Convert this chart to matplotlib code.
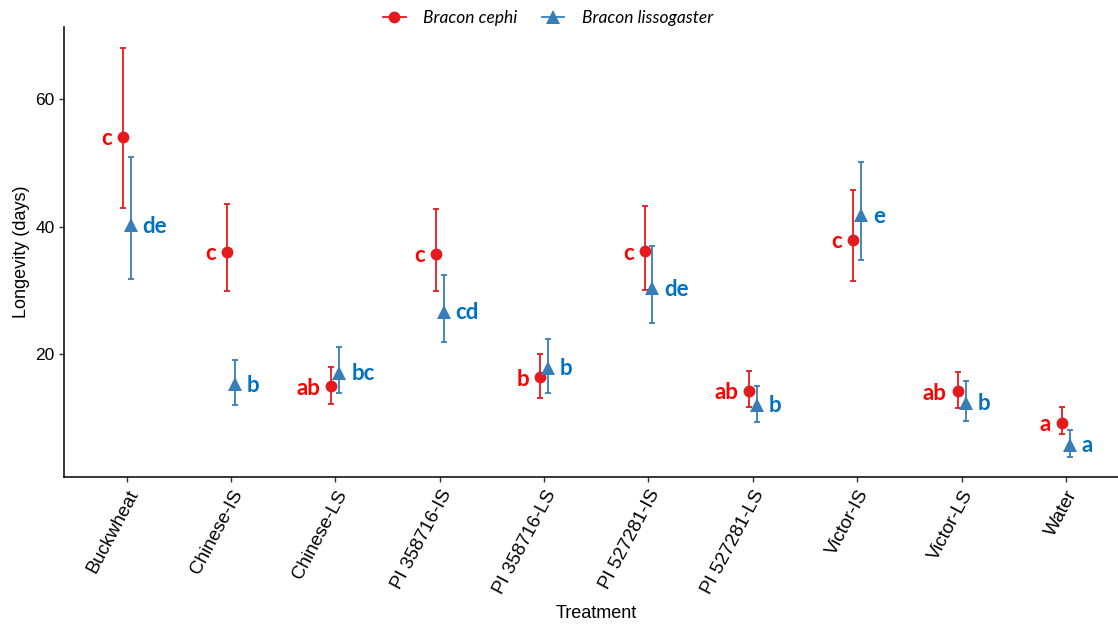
import matplotlib
matplotlib.use("Agg")
import matplotlib.pyplot as plt
from matplotlib.lines import Line2D
import numpy as np

# Treatments on the x axis
treatments = ["Buckwheat", "Chinese-IS", "Chinese-LS", "PI 358716-IS", "PI 358716-LS",
              "PI 527281-IS", "PI 527281-LS", "Victor-IS", "Victor-LS", "Water"]

# Bracon cephi: mean longevity with lower / upper interval limits (days)
cephi_mean = [54.1, 36.0, 14.9, 35.7, 16.3, 36.1, 14.2, 37.9, 14.1, 9.2]
cephi_low = [42.9, 29.8, 12.1, 29.9, 13.1, 30.1, 11.6, 31.4, 11.5, 7.4]
cephi_high = [68.1, 43.5, 17.9, 42.7, 20.0, 43.2, 17.3, 45.7, 17.1, 11.7]
cephi_letters = ["c", "c", "ab", "c", "b", "c", "ab", "c", "ab", "a"]

# Bracon lissogaster: mean longevity with lower / upper interval limits (days)
liss_mean = [40.2, 15.2, 17.0, 26.6, 17.8, 30.3, 12.0, 41.8, 12.3, 5.7]
liss_low = [31.7, 12.0, 13.8, 21.8, 13.9, 24.8, 9.3, 34.8, 9.5, 3.8]
liss_high = [51.0, 19.0, 21.0, 32.4, 22.3, 37.0, 15.0, 50.1, 15.7, 8.0]
liss_letters = ["de", "b", "bc", "cd", "b", "de", "b", "e", "b", "a"]

series_names = ["Bracon cephi", "Bracon lissogaster"]
yticks = [20, 40, 60]

RED = "#E41A1C"
BLUE = "#377EB8"
LETTER_RED = "#FF0000"
LETTER_BLUE = "#0070C0"

plt.rcParams["font.family"] = ["Liberation Sans", "DejaVu Sans"]

W, H = 1118, 625
fig = plt.figure(figsize=(W / 100, H / 100), dpi=100)
ax = fig.add_axes([64 / W, (H - 476.7) / H, (1128.6 - 64) / W, (476.7 - 27.3) / H])

x = np.arange(len(treatments))
dodge = 0.038


def draw_series(xpos, mean, low, high, color, marker, ms):
    mean = np.asarray(mean)
    yerr = np.vstack([mean - np.asarray(low), np.asarray(high) - mean])
    ax.errorbar(xpos, mean, yerr=yerr, fmt="none", ecolor=color, elinewidth=1.3,
                capsize=2.4, capthick=1.3, zorder=2)
    ax.plot(xpos, mean, linestyle="none", marker=marker, markersize=ms,
            color=color, markeredgewidth=0, zorder=3)


draw_series(x - dodge, cephi_mean, cephi_low, cephi_high, RED, "o", 8.5)
draw_series(x + dodge, liss_mean, liss_low, liss_high, BLUE, "^", 10.5)

letter_font = dict(family=["Lato", "DejaVu Sans"], fontweight="bold", fontsize=16)
for xi, yi, lab in zip(x - dodge, cephi_mean, cephi_letters):
    ax.annotate(lab, (xi, yi), xytext=(-11, -2), textcoords="offset pixels",
                ha="right", va="center", color=LETTER_RED, **letter_font)
for xi, yi, lab in zip(x + dodge, liss_mean, liss_letters):
    ax.annotate(lab, (xi, yi), xytext=(12, -1), textcoords="offset pixels",
                ha="left", va="center", color=LETTER_BLUE, **letter_font)

ax.set_xlim(-0.6, len(treatments) - 0.4)
ax.set_ylim(0.7, 71.3)
ax.set_yticks(yticks)
ax.set_xticks(x)
ax.set_xticklabels(treatments, rotation=62, ha="right", va="top",
                   rotation_mode="anchor", fontsize=13.5)

for s in ["top", "right"]:
    ax.spines[s].set_visible(False)
for s in ["left", "bottom"]:
    ax.spines[s].set_linewidth(1.1)
    ax.spines[s].set_color("black")
ax.tick_params(axis="both", length=3.4, width=1.0, color="#333333",
               labelcolor="black")
ax.tick_params(axis="y", labelsize=12.5, pad=3.5)
ax.tick_params(axis="x", pad=4)

fig.text(596 / W, (H - 613) / H, "Treatment", ha="center", va="center", fontsize=13)
fig.text(21 / W, (H - 252) / H, "Longevity (days)", ha="center", va="center",
         rotation=90, fontsize=13)

handles = [
    Line2D([], [], color=RED, marker="o", markersize=8.5, markeredgewidth=0, linewidth=1.3),
    Line2D([], [], color=BLUE, marker="^", markersize=10.5, markeredgewidth=0, linewidth=1.3),
]
fig.legend(handles, series_names, loc="center", bbox_to_anchor=(548 / W, (H - 18) / H),
           ncol=2, frameon=False, handlelength=1.3, handletextpad=1.0,
           columnspacing=1.4, borderpad=0.0,
           prop=dict(family=["Lato", "DejaVu Sans"], style="italic", size=12.5))

fig.savefig("out.png", dpi=100)
